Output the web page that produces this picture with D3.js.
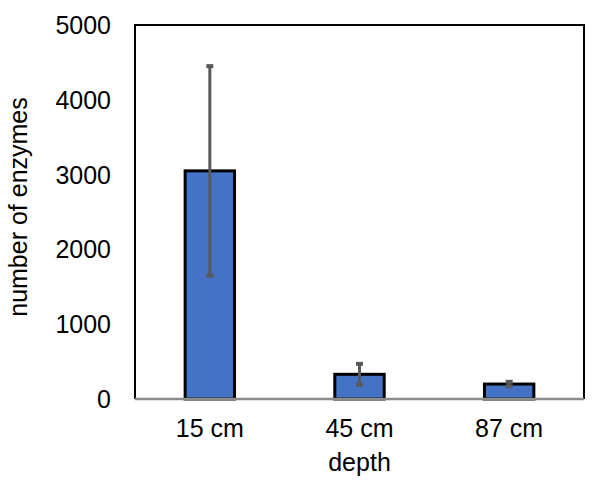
<!DOCTYPE html>
<html>
<head>
<meta charset="utf-8">
<script src="https://cdn.jsdelivr.net/npm/d3@7"></script>
<style>
  body { margin: 0; background: #fff; }
  text { font-family: "Liberation Sans", Arial, sans-serif; fill: #000; }
</style>
</head>
<body>
<svg id="chart"></svg>
<script>
// data
const depths   = ["15 cm", "45 cm", "87 cm"];
const enzymes  = [3050, 330, 200];
const errors   = [1400, 140, 30];
const yTicks   = [0, 1000, 2000, 3000, 4000, 5000];

const width = 600, height = 487;
const margin = { top: 25, right: 16, bottom: 88, left: 135 };
const x0 = margin.left, x1 = width - margin.right;
const y0 = height - margin.bottom, y1 = margin.top;

const svg = d3.select("#chart").attr("width", width).attr("height", height);

const x = d3.scaleBand()
  .domain(depths)
  .range([x0, x1])
  .paddingInner(0.67)
  .paddingOuter(0.335);

const y = d3.scaleLinear().domain([0, 5000]).range([y0, y1]);

// frame (left, top, right)
svg.append("path")
  .attr("d", `M${x0},${y0} V${y1} H${x1} V${y0}`)
  .attr("fill", "none")
  .attr("stroke", "#000")
  .attr("stroke-width", 2);

// bars
svg.selectAll("rect.bar")
  .data(depths)
  .join("rect")
    .attr("class", "bar")
    .attr("x", d => x(d))
    .attr("y", (d, i) => y(enzymes[i]))
    .attr("width", x.bandwidth())
    .attr("height", (d, i) => y0 - y(enzymes[i]))
    .attr("fill", "#4472C4")
    .attr("stroke", "#000")
    .attr("stroke-width", 3);

// baseline
svg.append("line")
  .attr("x1", x0).attr("x2", x1)
  .attr("y1", y0).attr("y2", y0)
  .attr("stroke", "#8c8c8c")
  .attr("stroke-width", 2.5);

// error bars
const eb = svg.selectAll("g.err")
  .data(depths)
  .join("g")
    .attr("class", "err")
    .attr("transform", d => `translate(${x(d) + x.bandwidth() / 2},0)`);

eb.append("line")
  .attr("y1", (d, i) => y(enzymes[i] + errors[i]))
  .attr("y2", (d, i) => y(enzymes[i] - errors[i]))
  .attr("stroke", "#595959")
  .attr("stroke-width", 3);

eb.each(function (d, i) {
  const g = d3.select(this);
  [enzymes[i] + errors[i], enzymes[i] - errors[i]].forEach(v => {
    g.append("rect")
      .attr("x", -3.5).attr("y", y(v) - 2)
      .attr("width", 7).attr("height", 4)
      .attr("fill", "#595959");
  });
});

// y tick labels
svg.append("g")
  .selectAll("text")
  .data(yTicks)
  .join("text")
    .attr("x", 111)
    .attr("y", d => y(d))
    .attr("dy", "0.36em")
    .attr("text-anchor", "end")
    .attr("font-size", 25)
    .text(d => d);

// x tick labels
svg.append("g")
  .selectAll("text")
  .data(depths)
  .join("text")
    .attr("x", d => x(d) + x.bandwidth() / 2)
    .attr("y", 437)
    .attr("text-anchor", "middle")
    .attr("font-size", 25)
    .text(d => d);

// axis titles
svg.append("text")
  .attr("x", (x0 + x1) / 2)
  .attr("y", 471)
  .attr("text-anchor", "middle")
  .attr("font-size", 25)
  .text("depth");

svg.append("text")
  .attr("transform", "translate(27,207) rotate(-90)")
  .attr("text-anchor", "middle")
  .attr("font-size", 25)
  .text("number of enzymes");
</script>
</body>
</html>
